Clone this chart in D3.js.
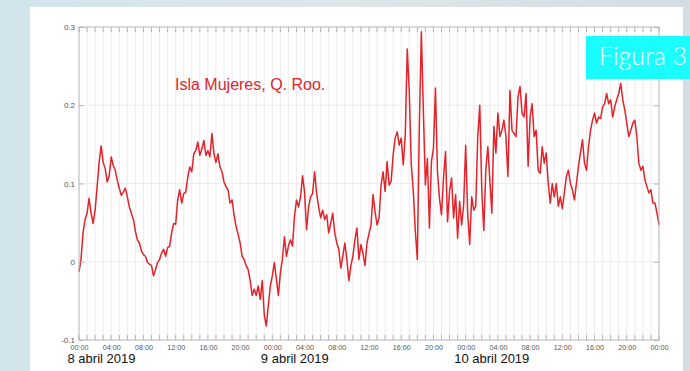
<!DOCTYPE html>
<html>
<head>
<meta charset="utf-8">
<script src="https://cdn.jsdelivr.net/npm/d3@7"></script>
<style>
  html, body { margin: 0; padding: 0; }
  body { width: 690px; height: 371px; overflow: hidden; background: #dce6eb; }
  svg { display: block; }
</style>
</head>
<body>
<script>
// time axis: 8 abril 2019 00:00 -> 11 abril 2019 00:00, one reading every 15 minutes
const startDate = new Date(2019, 3, 8, 0, 0);
const endDate = new Date(2019, 3, 11, 0, 0);
const stepMinutes = 15;

// sea level (m), 4 readings per hour
const level = [
  -0.013, 0.003, 0.037, 0.054,   0.062, 0.081, 0.062, 0.049,   0.066, 0.096, 0.127, 0.148,
  0.127, 0.119, 0.102, 0.110,    0.134, 0.123, 0.117, 0.104,   0.094, 0.085, 0.089, 0.094,
  0.083, 0.070, 0.062, 0.054,    0.039, 0.028, 0.024, 0.014,   0.009, 0.007, -0.001, -0.003,
  -0.005, -0.018, -0.010, -0.001, 0.003, 0.011, 0.016, 0.007,  0.018, 0.020, 0.037, 0.049,
  // 12:00
  0.048, 0.079, 0.092, 0.075,    0.087, 0.089, 0.108, 0.121,   0.115, 0.138, 0.142, 0.153,
  0.136, 0.144, 0.155, 0.136,    0.142, 0.134, 0.164, 0.138,   0.127, 0.138, 0.121, 0.115,
  0.102, 0.096, 0.092, 0.075,    0.079, 0.060, 0.045, 0.035,   0.024, 0.007, 0.003, -0.005,
  -0.010, -0.024, -0.043, -0.035, -0.043, -0.031, -0.048, -0.024, -0.068, -0.082, -0.056, -0.031,
  // 9 abril 00:00
  -0.018, -0.001, -0.022, -0.043, -0.014, 0.003, 0.032, 0.007, 0.020, 0.028, 0.020, 0.058,
  0.079, 0.070, 0.083, 0.110,    0.089, 0.041, 0.070, 0.083,   0.087, 0.115, 0.087, 0.070,
  0.056, 0.066, 0.054, 0.060,    0.037, 0.049, 0.062, 0.037,   0.024, 0.016, -0.008, 0.007,
  0.024, 0.003, -0.024, -0.005,  0.007, 0.028, 0.043, 0.003,   0.022, 0.011, -0.005, 0.024,
  // 12:00
  0.036, 0.047, 0.086, 0.064,    0.047, 0.056, 0.098, 0.115,   0.090, 0.128, 0.098, 0.103,
  0.137, 0.158, 0.166, 0.149,    0.158, 0.124, 0.162, 0.272,   0.217, 0.124, 0.090, 0.039,
  0.003, 0.175, 0.294, 0.192,    0.098, 0.132, 0.043, 0.128,   0.145, 0.222, 0.115, 0.081,
  0.060, 0.107, 0.141, 0.051,    0.090, 0.107, 0.056, 0.086,   0.030, 0.077, 0.047, 0.073,
  // 10 abril 00:00
  0.149, 0.062, 0.022, 0.083,    0.066, 0.071, 0.160, 0.200,   0.092, 0.040, 0.117, 0.147,
  0.105, 0.062, 0.173, 0.139,    0.190, 0.160, 0.168, 0.181,   0.160, 0.109, 0.219, 0.168,
  0.164, 0.160, 0.211, 0.224,    0.190, 0.185, 0.215, 0.122,   0.185, 0.202, 0.160, 0.168,
  0.117, 0.113, 0.147, 0.126,    0.139, 0.100, 0.075, 0.100,   0.083, 0.100, 0.071, 0.083,
  // 12:00
  0.068, 0.088, 0.109, 0.117,    0.100, 0.092, 0.079, 0.100,   0.122, 0.139, 0.156, 0.126,
  0.117, 0.147, 0.168, 0.181,    0.190, 0.177, 0.185, 0.183,   0.198, 0.202, 0.215, 0.202,
  0.207, 0.185, 0.198, 0.207,    0.215, 0.228, 0.207, 0.194,   0.177, 0.160, 0.168, 0.177,
  0.181, 0.160, 0.126, 0.117,    0.122, 0.105, 0.096, 0.088,   0.092, 0.075, 0.075, 0.062,
  // 11 abril 00:00
  0.047
];

const yTicks = [-0.1, 0, 0.1, 0.2, 0.3];
const dayDates = [new Date(2019, 3, 8), new Date(2019, 3, 9), new Date(2019, 3, 10)];
const dayLabels = ['8 abril 2019', '9 abril 2019', '10 abril 2019'];
const titleText = 'Isla Mujeres, Q. Roo.';
const badgeText = 'Figura 3';

const W = 690, H = 371;
const margin = { top: 27, right: 31, bottom: 31, left: 79 };
const width = W - margin.left - margin.right;
const height = H - margin.top - margin.bottom;

const svg = d3.select('body').append('svg')
  .attr('width', W)
  .attr('height', H);

// background: pale blue photo-like backdrop and the white sheet
const defs = svg.append('defs');
const bg = defs.append('linearGradient').attr('id', 'bg').attr('x1', 0).attr('x2', 1).attr('y1', 0).attr('y2', 0);
bg.append('stop').attr('offset', '0%').attr('stop-color', '#d2e4ec');
bg.append('stop').attr('offset', '50%').attr('stop-color', '#dde6eb');
bg.append('stop').attr('offset', '100%').attr('stop-color', '#d3dde3');
svg.append('rect').attr('width', W).attr('height', H).attr('fill', 'url(#bg)');
svg.append('rect').attr('x', 30).attr('y', 7).attr('width', 653).attr('height', H - 7).attr('fill', '#ffffff');

const g = svg.append('g').attr('transform', `translate(${margin.left},${margin.top})`);

const x = d3.scaleTime().domain([startDate, endDate]).range([0, width]);
const y = d3.scaleLinear().domain([-0.1, 0.3]).range([height, 0]);

const hours = d3.timeHour.every(1).range(startDate, d3.timeMinute.offset(endDate, 1));
const labelHours = d3.timeHour.every(4).range(startDate, d3.timeMinute.offset(endDate, 1));

// grid
g.append('g').selectAll('line').data(hours).join('line')
  .attr('x1', d => x(d)).attr('x2', d => x(d))
  .attr('y1', 0).attr('y2', height)
  .attr('stroke', '#ececec').attr('stroke-width', 1);
g.append('g').selectAll('line').data(yTicks).join('line')
  .attr('x1', 0).attr('x2', width)
  .attr('y1', d => y(d)).attr('y2', d => y(d))
  .attr('stroke', '#ececec').attr('stroke-width', 1);

// series
const line = d3.line()
  .x((d, i) => x(d3.timeMinute.offset(startDate, i * stepMinutes)))
  .y(d => y(d));
g.append('path')
  .datum(level)
  .attr('fill', 'none')
  .attr('stroke', '#e3222a')
  .attr('stroke-width', 1.5)
  .attr('stroke-linejoin', 'round')
  .attr('d', line);

// box
g.append('rect')
  .attr('width', width).attr('height', height)
  .attr('fill', 'none').attr('stroke', '#bdbdbd').attr('stroke-width', 1);

// inward hourly ticks, top and bottom
g.append('g').selectAll('line').data(hours).join('line')
  .attr('x1', d => x(d)).attr('x2', d => x(d))
  .attr('y1', height).attr('y2', height - 5)
  .attr('stroke', '#b5b5b5');
g.append('g').selectAll('line').data(hours).join('line')
  .attr('x1', d => x(d)).attr('x2', d => x(d))
  .attr('y1', 0).attr('y2', 5)
  .attr('stroke', '#b5b5b5');

// y axes
const yAxis = g.append('g')
  .call(d3.axisLeft(y).tickValues(yTicks).tickSize(-5).tickPadding(4).tickFormat(d => String(d)));
g.append('g')
  .attr('transform', `translate(${width},0)`)
  .call(d3.axisRight(y).tickValues(yTicks).tickSize(-5).tickFormat(''));

// x axis labels
const xAxis = g.append('g')
  .attr('transform', `translate(0,${height})`)
  .call(d3.axisBottom(x).tickValues(labelHours).tickSize(0).tickPadding(5).tickFormat(d3.timeFormat('%H:%M')));

svg.selectAll('.domain').remove();
svg.selectAll('.tick line').attr('stroke', '#b5b5b5');
yAxis.selectAll('text').attr('font-size', 8).attr('fill', '#555').attr('font-family', 'Liberation Sans, Arial, sans-serif');
xAxis.selectAll('text').attr('font-size', 7.2).attr('fill', '#555').attr('font-family', 'Liberation Sans, Arial, sans-serif');

// day labels under the 00:00 ticks
g.append('g').selectAll('text').data(dayDates).join('text')
  .attr('x', d => x(d) - 11.5)
  .attr('y', height + 23)
  .attr('font-family', 'Liberation Sans, Arial, sans-serif')
  .attr('font-size', 13)
  .attr('fill', '#111')
  .text((d, i) => dayLabels[i]);

// title inside the plot
svg.append('text')
  .attr('x', 175).attr('y', 90)
  .attr('font-family', 'Liberation Sans, Arial, sans-serif')
  .attr('font-size', 16)
  .attr('fill', '#e3222a')
  .text(titleText);

// figure badge
svg.append('rect')
  .attr('x', 586).attr('y', 36).attr('width', 104).attr('height', 43)
  .attr('fill', '#1bfcff');
svg.append('text')
  .attr('x', 599).attr('y', 65)
  .attr('font-family', 'Lato, Open Sans, sans-serif')
  .attr('font-weight', 300)
  .attr('font-size', 25)
  .attr('fill', '#ffffff')
  .text(badgeText);
</script>
</body>
</html>
